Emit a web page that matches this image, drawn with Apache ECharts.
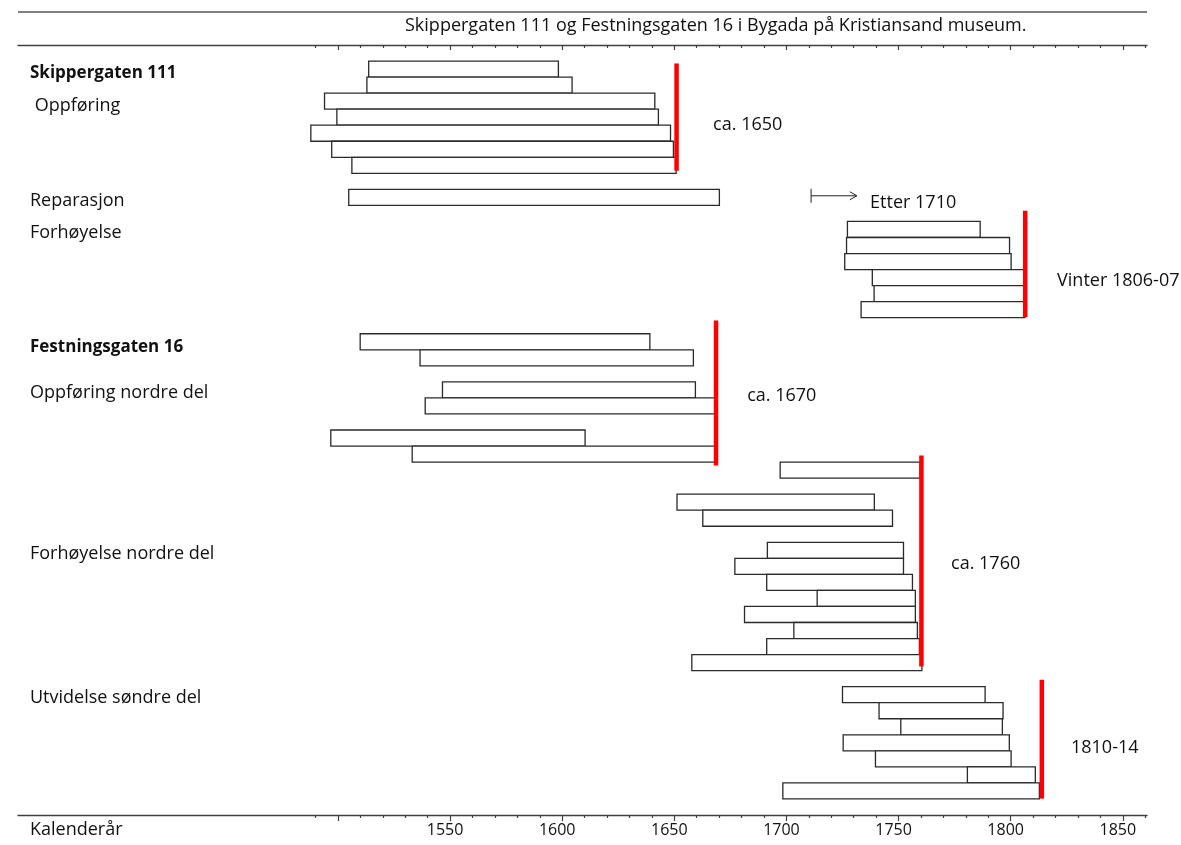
<!DOCTYPE html>
<html>
<head>
<meta charset="utf-8">
<script src="https://cdn.jsdelivr.net/npm/echarts@6/dist/echarts.min.js"></script>
<style>
  html, body { margin: 0; padding: 0; background: #fff; }
  #chart { width: 1181px; height: 845px; }
</style>
</head>
<body>
<div id="chart"></div>
<script>
// ---------------- data ----------------
const chartTitle = 'Skippergaten 111 og Festningsgaten 16 i Bygada på Kristiansand museum.';
const axisTitle = 'Kalenderår';

// one row per sample (row number from the top), first and last year of each sample
const barRows  = [1, 2, 3, 4, 5, 6, 7,
                  9,
                  11, 12, 13, 14, 15, 16,
                  18, 19, 21, 22, 24, 25,
                  26, 28, 29, 31, 32, 33, 34, 35, 36, 37, 38,
                  40, 41, 42, 43, 44, 45, 46];
const barStart = [1513.7, 1512.9, 1494.0, 1499.5, 1487.9, 1497.2, 1506.2,
                  1504.8,
                  1727.2, 1726.8, 1726.0, 1738.3, 1739.1, 1733.3,
                  1509.9, 1536.6, 1546.6, 1538.9, 1496.8, 1533.1,
                  1697.2, 1651.2, 1662.7, 1691.5, 1677.0, 1691.2, 1713.7, 1681.3, 1703.3, 1691.2, 1657.8,
                  1725.0, 1741.3, 1751.0, 1725.3, 1739.7, 1780.7, 1698.4];
const barEnd   = [1598.3, 1604.4, 1641.3, 1642.9, 1648.3, 1649.6, 1650.8,
                  1670.1,
                  1786.4, 1799.5, 1800.2, 1806.0, 1806.0, 1806.3,
                  1639.1, 1658.5, 1659.4, 1668.2, 1610.2, 1668.2,
                  1759.6, 1739.2, 1747.3, 1752.2, 1752.2, 1756.2, 1757.5, 1757.5, 1758.4, 1759.3, 1760.4,
                  1788.6, 1796.6, 1796.3, 1799.4, 1800.2, 1811.0, 1812.8];

// group labels (left side)
const groupLabels    = ['Skippergaten 111', ' Oppføring', 'Reparasjon', 'Forhøyelse',
                        'Festningsgaten 16', 'Oppføring nordre del', 'Forhøyelse nordre del', 'Utvidelse søndre del'];
const groupLabelRows = [1.25, 3.29, 9.21, 11.2, 18.36, 21.17, 31.2, 40.17];
const groupLabelBold = [true, false, false, false, true, false, false, false];

// dating lines (red)
const datingYear    = [1651.0, 1806.5, 1668.6, 1760.2, 1813.9];
const datingRowFrom = [0.65, 9.83, 16.68, 25.09, 39.07];
const datingRowTo   = [7.34, 16.47, 25.71, 38.24, 46.48];

// dating texts
const datingTexts    = ['ca. 1650', 'Etter 1710', 'Vinter 1806-07', 'ca. 1670', 'ca. 1760', '1810-14'];
const datingTextYear = [1667.3, 1737.3, 1820.7, 1682.5, 1773.4, 1826.9];
const datingTextRow  = [4.47, 9.37, 14.19, 21.35, 31.82, 43.33];

// "after" arrow
const arrowFrom = 1711, arrowTo = 1731.4, arrowRow = 8.9;

// axis
const labelYears = [1550, 1600, 1650, 1700, 1750, 1800, 1850];
const majorTickYears = [1500, 1550, 1600, 1650, 1700, 1750, 1800, 1850];
const minorTickYears = [1490, 1510, 1520, 1530, 1540, 1560, 1570, 1580, 1590, 1610, 1620, 1630, 1640,
                        1660, 1670, 1680, 1690, 1710, 1720, 1730, 1740, 1760, 1770, 1780, 1790,
                        1810, 1820, 1830, 1840, 1860];
const xMin = 1357.3, xMax = 1860.8;
const rowMin = -0.5, rowMax = 47.5;

// ---------------- chart ----------------
const FONT = '"Open Sans", "Noto Sans", sans-serif';
const FS = 18;
const chart = echarts.init(document.getElementById('chart'), null, { renderer: 'canvas' });

const barData = barRows.map((r, i) => [r, barStart[i], barEnd[i]]);
const datingData = datingYear.map((y, i) => [y, datingRowFrom[i], datingRowTo[i]]);
const textData = datingTexts.map((t, i) => [datingTextYear[i], datingTextRow[i]]);

function makeX(opts) {
  return Object.assign({
    type: 'value', min: xMin, max: xMax,
    splitLine: { show: false },
    axisLine: { show: true, onZero: false, lineStyle: { color: '#404040', width: 1.3 } },
    axisLabel: { show: false },
    axisTick: { show: true, lineStyle: { color: '#404040', width: 1.2 } }
  }, opts);
}

const option = {
  animation: false,
  backgroundColor: '#fff',
  title: {
    text: chartTitle,
    left: 405, top: 17, padding: 0,
    textStyle: { fontFamily: FONT, fontSize: FS, fontWeight: 'normal', color: '#111' }
  },
  graphic: [
    { type: 'line', shape: { x1: 18, y1: 12, x2: 1147, y2: 12 }, style: { stroke: '#555', lineWidth: 1.3 } },
    { type: 'text', left: 30, top: 821, style: { text: axisTitle, fill: '#111', font: FS + 'px ' + FONT } }
  ],
  grid: { left: 18, right: 34, top: 45, bottom: 30, containLabel: false },
  xAxis: [
    makeX({ position: 'bottom',
      axisTick: { show: true, length: 6, customValues: majorTickYears, lineStyle: { color: '#404040', width: 1.2 } },
      axisLabel: { show: true, customValues: labelYears, margin: 7, fontFamily: FONT, fontSize: 16, color: '#111',
                   padding: [0, 10, 0, 0],
                   formatter: function (v) { return String(Math.round(v)); } } }),
    makeX({ position: 'bottom', axisLine: { show: false, onZero: false },
      axisTick: { show: true, length: 3, customValues: minorTickYears, lineStyle: { color: '#404040', width: 1.2 } } }),
    makeX({ position: 'top',
      axisTick: { show: true, inside: true, length: 5, customValues: majorTickYears, lineStyle: { color: '#404040', width: 1.2 } } }),
    makeX({ position: 'top', axisLine: { show: false, onZero: false },
      axisTick: { show: true, inside: true, length: 3, customValues: minorTickYears, lineStyle: { color: '#404040', width: 1.2 } } })
  ],
  yAxis: {
    type: 'value', inverse: true, min: rowMin, max: rowMax,
    axisLine: { show: false, onZero: false }, axisTick: { show: false }, splitLine: { show: false },
    axisLabel: {
      show: true, inside: true, align: 'left', margin: 12,
      customValues: groupLabelRows,
      fontFamily: FONT, fontSize: FS, color: '#111',
      formatter: function (v) {
        const i = groupLabelRows.indexOf(v);
        if (i < 0) return '';
        return groupLabelBold[i] ? '{b|' + groupLabels[i] + '}' : '{n|' + groupLabels[i] + '}';
      },
      rich: {
        b: { fontFamily: FONT, fontSize: 17, fontWeight: 'bold', color: '#111' },
        n: { fontFamily: FONT, fontSize: FS, color: '#111' }
      }
    }
  },
  series: [
    {
      type: 'custom', name: 'Prøver', xAxisIndex: 0, yAxisIndex: 0,
      data: barData,
      encode: { x: [1, 2], y: 0 },
      renderItem: function (params, api) {
        const s = api.coord([api.value(1), api.value(0)]);
        const e = api.coord([api.value(2), api.value(0)]);
        const h = Math.abs(api.size([0, 1])[1]);
        return {
          type: 'rect',
          shape: { x: s[0], y: s[1] - h / 2, width: e[0] - s[0], height: h },
          style: { fill: '#fff', stroke: '#2a2a2a', lineWidth: 1.3 }
        };
      }
    },
    {
      type: 'custom', name: 'Datering', xAxisIndex: 0, yAxisIndex: 0,
      data: datingData,
      encode: { x: 0, y: [1, 2] },
      z: 5,
      renderItem: function (params, api) {
        const a = api.coord([api.value(0), api.value(1)]);
        const b = api.coord([api.value(0), api.value(2)]);
        return {
          type: 'line',
          shape: { x1: a[0], y1: a[1], x2: b[0], y2: b[1] },
          style: { stroke: '#ff0000', lineWidth: 4.5 }
        };
      }
    },
    {
      type: 'custom', name: 'Tekst', xAxisIndex: 0, yAxisIndex: 0,
      data: textData,
      encode: { x: 0, y: 1 },
      z: 6,
      renderItem: function (params, api) {
        const p = api.coord([api.value(0), api.value(1)]);
        return {
          type: 'text', x: p[0], y: p[1],
          style: { text: datingTexts[params.dataIndex], fill: '#111', font: FS + 'px ' + FONT,
                   align: 'left', verticalAlign: 'middle' }
        };
      }
    },
    {
      type: 'custom', name: 'Pil', xAxisIndex: 0, yAxisIndex: 0,
      data: [[arrowFrom, arrowTo, arrowRow]],
      encode: { x: [0, 1], y: 2 },
      z: 6,
      renderItem: function (params, api) {
        const a = api.coord([api.value(0), api.value(2)]);
        const b = api.coord([api.value(1), api.value(2)]);
        const st = { stroke: '#222', lineWidth: 1, fill: 'none' };
        return {
          type: 'group',
          children: [
            { type: 'line', shape: { x1: a[0], y1: a[1], x2: b[0], y2: b[1] }, style: st },
            { type: 'line', shape: { x1: a[0], y1: a[1] - 7, x2: a[0], y2: a[1] + 7 }, style: st },
            { type: 'polyline', shape: { points: [[b[0] - 7, b[1] - 4], [b[0], b[1]], [b[0] - 7, b[1] + 4]] }, style: st }
          ]
        };
      }
    }
  ]
};
chart.setOption(option);
</script>
</body>
</html>
